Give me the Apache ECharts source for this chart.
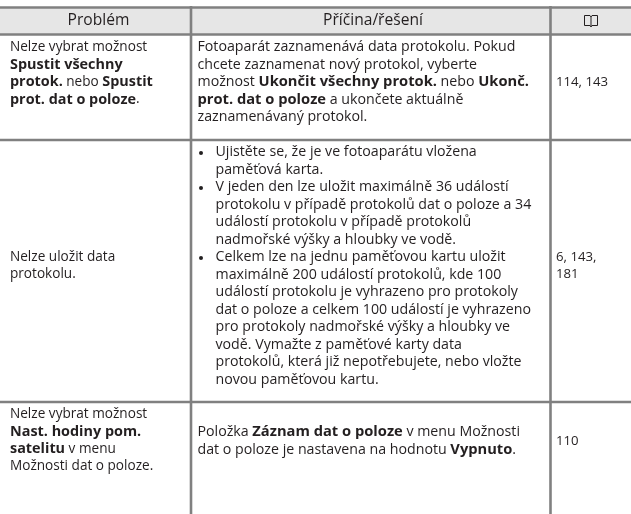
<!DOCTYPE html>
<html><head><meta charset="utf-8">
<script src="https://cdn.jsdelivr.net/npm/echarts@6/dist/echarts.min.js"></script>
<style>html,body{margin:0;padding:0;background:#fff}#c{width:631px;height:514px}</style>
</head><body><div id="c"></div>
<script>
const headers = ['Problém', 'Příčina/řešení'];
const problems = [
  ['Nelze vybrat možnost', '**Spustit všechny**', '**protok.** nebo **Spustit**', '**prot. dat o poloze**.'],
  ['Nelze uložit data', 'protokolu.'],
  ['Nelze vybrat možnost', '**Nast. hodiny pom.**', '**satelitu** v menu', 'Možnosti dat o poloze.']
];
const solutions = [
  ['Fotoaparát zaznamenává data protokolu. Pokud',
   'chcete zaznamenat nový protokol, vyberte',
   'možnost **Ukončit všechny protok.** nebo **Ukonč.**',
   '**prot. dat o poloze** a ukončete aktuálně',
   'zaznamenávaný protokol.'],
  ['• Ujistěte se, že je ve fotoaparátu vložena',
   '  paměťová karta.',
   '• V jeden den lze uložit maximálně 36 událostí',
   '  protokolu v případě protokolů dat o poloze a 34',
   '  událostí protokolu v případě protokolů',
   '  nadmořské výšky a hloubky ve vodě.',
   '• Celkem lze na jednu paměťovou kartu uložit',
   '  maximálně 200 událostí protokolů, kde 100',
   '  událostí protokolu je vyhrazeno pro protokoly',
   '  dat o poloze a celkem 100 událostí je vyhrazeno',
   '  pro protokoly nadmořské výšky a hloubky ve',
   '  vodě. Vymažte z paměťové karty data',
   '  protokolů, která již nepotřebujete, nebo vložte',
   '  novou paměťovou kartu.'],
  ['Položka **Záznam dat o poloze** v menu Možnosti',
   'dat o poloze je nastavena na hodnotu **Vypnuto**.']
];
const pages = [['114, 143'], ['6, 143,', '181'], ['110']];

// layout
const W = 631;
const colX = [0, 191, 551, 631];
const firstLine = [[47, 47, 82], [257, 152, 257], [414, 432, 441]];
const LH = 17.5;
const FONT = '"Open Sans", "Noto Sans", sans-serif';
const SIZES = {
  c1: [13.6, 14.4],
  c2: [14.2, 14.7],
  c3: [13.2, 13.2],
  h: [15.6, 15.6]
};
const TXT = '#231f20';
const LINE = '#808080';

function rich(s) {
  const parts = s.split('**');
  let out = '';
  parts.forEach((p, i) => { if (p) out += '{' + (i % 2 ? 'b' : 'n') + '|' + p + '}'; });
  return out;
}
function textEl(x, y, s, sz, align) {
  return { type: 'text', x: x, y: y, silent: true,
    style: { text: rich(s),
      rich: { n: { fontFamily: FONT, fontSize: sz[0], fill: TXT },
              b: { fontFamily: FONT, fontSize: sz[1], fill: TXT, fontWeight: 'bold' } },
      fontFamily: FONT, fontSize: sz[0], fill: TXT,
      align: align || 'left', verticalAlign: 'middle' } };
}

const g = [];
g.push({ type: 'rect', shape: { x: 0, y: 8, width: W, height: 26 }, style: { fill: '#e6e6e6' }, silent: true });
g.push(textEl((colX[0] + colX[1]) / 2 + 3, 21, headers[0], SIZES.h, 'center'));
g.push(textEl((colX[1] + colX[2]) / 2 + 2, 21, headers[1], SIZES.h, 'center'));
// book icon
const bookStyle = { fill: 'none', stroke: '#231f20', lineWidth: 1 };
g.push({ type: 'polyline', silent: true, shape: { points: [[591, 17], [590, 15.5], [584.5, 15.5], [584.5, 25.5], [590, 25.5], [591, 27], [592, 25.5], [597.5, 25.5], [597.5, 15.5], [592, 15.5], [591, 17], [591, 26]] }, style: bookStyle });

problems.forEach((lines, r) => {
  lines.forEach((s, i) => g.push(textEl(colX[0] + 10, firstLine[r][0] + i * LH, s, SIZES.c1)));
});
solutions.forEach((lines, r) => {
  lines.forEach((s, i) => {
    const y = firstLine[r][1] + i * LH;
    if (s.startsWith('• ')) {
      g.push({ type: 'circle', shape: { cx: colX[1] + 10, cy: y + 1, r: 2 }, style: { fill: TXT }, silent: true });
      g.push(textEl(colX[1] + 24.5, y, s.slice(2), SIZES.c2));
    } else if (s.startsWith('  ')) {
      g.push(textEl(colX[1] + 24.5, y, s.slice(2), SIZES.c2));
    } else {
      g.push(textEl(colX[1] + 6.5, y, s, SIZES.c2));
    }
  });
});
pages.forEach((lines, r) => {
  lines.forEach((s, i) => g.push(textEl(colX[2] + 5, firstLine[r][2] + i * LH, s, SIZES.c3)));
});

const lw = 2.6;
g.push({ type: 'line', shape: { x1: 0, y1: 7.5, x2: W, y2: 7.5 }, style: { stroke: LINE, lineWidth: lw }, silent: true });
[34.5, 140, 402].forEach(y => g.push({ type: 'line', shape: { x1: 0, y1: y, x2: W, y2: y }, style: { stroke: LINE, lineWidth: lw }, silent: true }));
[191, 550.5].forEach(x => g.push({ type: 'line', shape: { x1: x, y1: 6, x2: x, y2: 514 }, style: { stroke: LINE, lineWidth: lw }, silent: true }));

const chart = echarts.init(document.getElementById('c'), null, { renderer: 'canvas' });
chart.setOption({ animation: false, backgroundColor: '#fff', graphic: { elements: g } });
</script></body></html>
